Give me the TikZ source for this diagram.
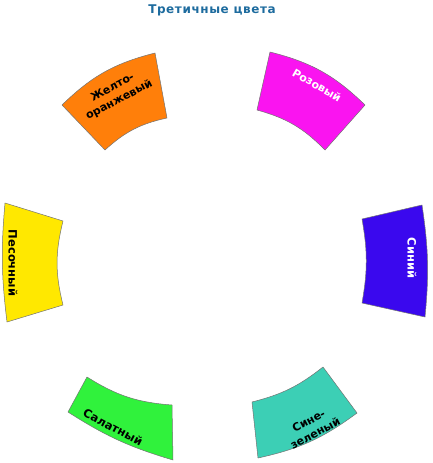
\documentclass[tikz,border=0pt]{standalone}
\usepackage{fontspec}
\setmainfont{DejaVu Sans}
\newfontfamily\titlefont[LetterSpace=5]{DejaVu Sans}
\definecolor{cOrange}{HTML}{FF7F0A}
\definecolor{cPink}{HTML}{FA14F0}
\definecolor{cBlue}{HTML}{3A08EE}
\definecolor{cTeal}{HTML}{3CCFB5}
\definecolor{cGreen}{HTML}{30F23C}
\definecolor{cYellow}{HTML}{FFE800}
\definecolor{cTitle}{HTML}{1D6B9E}
\begin{document}
\begin{tikzpicture}[x=1pt,y=-1pt,
  seg/.style={draw=black!55, line width=0.5pt, line join=round},
  lbl/.style={font=\bfseries\fontsize{11}{14}\selectfont, inner sep=0pt, align=center},
  ]
\useasboundingbox (0,0) rectangle (433,463);
% title
\node[font=\titlefont\bfseries\fontsize{12}{14}\selectfont, text=cTitle] (title) at (212,10) {Третичные цвета};
% Yellow (left)
\coordinate (yo1) at (5,203); \coordinate (yo2) at (7,322);
\coordinate (yi2) at (63,305); \coordinate (yi1) at (63,221);
\path[seg, fill=cYellow] (yo1) to[bend right=6] (yo2) -- (yi2) to[bend left=14] (yi1) -- cycle;
\node[lbl, rotate=-90, text=black, font=\bfseries\fontsize{11.5}{14}\selectfont] (ytext) at (13,263) {Песочный};
% Orange (upper left)
\coordinate (oo1) at (155,53); \coordinate (oo2) at (62,105);
\coordinate (oi2) at (105,150); \coordinate (oi1) at (167,118);
\path[seg, fill=cOrange] (oo1) to[bend right=15] (oo2) -- (oi2) to[bend left=15] (oi1) -- cycle;
\node[lbl, rotate=28, text=black] (otext) at (116,94) {Желто-\\оранжевый};
% Pink (upper right)
\coordinate (po1) at (365,105); \coordinate (po2) at (270,52);
\coordinate (pi2) at (257,110); \coordinate (pi1) at (325,150);
\path[seg, fill=cPink] (po1) to[bend right=15] (po2) -- (pi2) to[bend left=15] (pi1) -- cycle;
\node[lbl, rotate=-30, text=white] (ptext) at (317,85) {Розовый};
% Blue (right)
\coordinate (bo1) at (425,317); \coordinate (bo2) at (422,205);
\coordinate (bi2) at (362,219); \coordinate (bi1) at (362,303);
\path[seg, fill=cBlue] (bo1) to[bend right=7] (bo2) -- (bi2) to[bend left=10] (bi1) -- cycle;
\node[lbl, rotate=-90, text=white, font=\bfseries\fontsize{11.5}{14}\selectfont] (btext) at (412,258) {Синий};
% Teal (lower right)
\coordinate (to1) at (258,458); \coordinate (to2) at (357,413);
\coordinate (ti2) at (323,367); \coordinate (ti1) at (252,402);
\path[seg, fill=cTeal] (to1) to[bend right=12] (to2) -- (ti2) to[bend left=12] (ti1) -- cycle;
\node[lbl, rotate=28, text=black] (ttext) at (312,427) {Сине-\\зеленый};
% Green (lower left)
\coordinate (go1) at (68,412); \coordinate (go2) at (173,460);
\coordinate (gi2) at (172,405); \coordinate (gi1) at (87,377);
\path[seg, fill=cGreen] (go1) to[bend right=8] (go2) -- (gi2) to[bend left=14] (gi1) -- cycle;
\node[lbl, rotate=-28, text=black, font=\bfseries\fontsize{11.5}{14}\selectfont] (gtext) at (113,427) {Салатный};
\end{tikzpicture}
\end{document}
